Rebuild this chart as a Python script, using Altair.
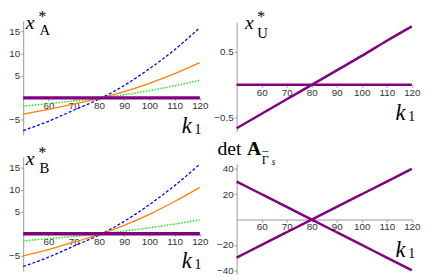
import altair as alt
import pandas as pd

# ---------------- data ----------------
K = [50, 60, 70, 80, 90, 100, 110, 120]

A_BLUE = [-7.4, -5.3, -2.8, -0.3, 2.8, 6.6, 10.9, 15.9]
A_ORANGE = [-3.7, -2.6, -1.4, -0.15, 1.4, 3.3, 5.5, 8.0]
A_GREEN = [-1.85, -1.3, -0.7, -0.1, 0.7, 1.65, 2.75, 4.0]
A_PURPLE = [0, 0, 0, 0, 0, 0, 0, 0]

U_LINE = [-0.66, -0.44, -0.22, 0.0, 0.22, 0.44, 0.67, 0.89]
U_ZERO = [0, 0, 0, 0, 0, 0, 0, 0]

B_BLUE = [-7.4, -5.3, -2.8, -0.3, 2.8, 6.6, 10.9, 15.8]
B_ORANGE = [-5.0, -3.6, -1.9, -0.2, 1.9, 4.4, 7.3, 10.5]
B_GREEN = [-1.6, -1.1, -0.6, -0.05, 0.6, 1.35, 2.2, 3.15]
B_PURPLE = [0, 0, 0, 0, 0, 0, 0, 0]

DET_DOWN = [30, 20, 10, 0, -10, -20, -30, -40]
DET_UP = [-30, -20, -10, 0, 10, 20, 30, 40]

X_TICKS = [60, 70, 80, 90, 100, 110, 120]
AB_YTICKS = [-5, 5, 10, 15]
U_YTICKS = [-0.5, 0.5]
DET_YTICKS = [-40, -20, 20, 40]

# ---------------- layout ----------------
W, H = 428, 272
SX, SY = 6, 1

BLUE = "#0000ff"
ORANGE = "#ff8000"
GREEN = "#22ee22"
PURPLE = "#800080"

SANS = "Liberation Sans"
SERIF = "Liberation Serif"


def px(x):
    return x - SX


def py(y):
    return y - SY


def panel(series, xr, yr, ydom, yticks, yfmt):
    y0 = yr[0] + (0 - ydom[0]) / (ydom[1] - ydom[0]) * (yr[1] - yr[0])
    xscale = alt.Scale(domain=[50, 120], range=[px(xr[0]), px(xr[1])], nice=False, zero=False)
    yscale = alt.Scale(domain=ydom, range=[py(yr[0]), py(yr[1])], nice=False, zero=False)
    xaxis = alt.Axis(orient="bottom", offset=py(y0) - H, values=X_TICKS, title=None,
                     labelFlush=False, labelOverlap=False, labelPadding=0, tickSize=2.5)
    yaxis = alt.Axis(orient="left", offset=-px(xr[0]), values=yticks, title=None, format=yfmt,
                     labelFlush=False, labelOverlap=False, labelPadding=1, tickSize=2.5)
    layers = []
    for vals, color, width, dash in series:
        df = pd.DataFrame({"k": K, "v": vals})
        kw = dict(color=color, strokeWidth=width, interpolate="monotone")
        if dash:
            kw["strokeDash"] = dash
        layers.append(
            alt.Chart(df).mark_line(**kw).encode(
                x=alt.X("k:Q", scale=xscale, axis=xaxis),
                y=alt.Y("v:Q", scale=yscale, axis=yaxis),
            )
        )
    return alt.layer(*layers)


def label(text, x, y, size, style="normal", weight="normal", font=SERIF):
    return alt.Chart(pd.DataFrame({"t": [text]})).mark_text(
        align="left", baseline="alphabetic", font=font, fontSize=size,
        fontStyle=style, fontWeight=weight, color="black",
    ).encode(x=alt.value(px(x)), y=alt.value(py(y)), text="t:N")


p1 = panel(
    [(A_BLUE, BLUE, 1.3, [3, 2]), (A_ORANGE, ORANGE, 1.3, None),
     (A_GREEN, GREEN, 1.5, [1.5, 1.5]), (A_PURPLE, PURPLE, 3.5, None)],
    [21.5, 201.5], [127.8, 11.7], [-8.4, 17.4], AB_YTICKS, "d")
p2 = panel(
    [(U_ZERO, PURPLE, 2.5, None), (U_LINE, PURPLE, 2.5, None)],
    [239, 417.5], [124.3, 13.05], [-0.71, 0.95], U_YTICKS, ".1f")
p3 = panel(
    [(B_BLUE, BLUE, 1.3, [3, 2]), (B_ORANGE, ORANGE, 1.3, None),
     (B_GREEN, GREEN, 1.5, [1.5, 1.5]), (B_PURPLE, PURPLE, 3.5, None)],
    [21.5, 201.5], [266.3, 150.2], [-8.4, 17.4], AB_YTICKS, "d")
p4 = panel(
    [(DET_DOWN, PURPLE, 2.5, None), (DET_UP, PURPLE, 2.5, None)],
    [239, 417.5], [269.5, 157.2], [-43, 44], DET_YTICKS, "d")

labels = [
    # x*_A
    label("x", 24, 19.5, 20, style="italic"),
    label("*", 37, 12.5, 16),
    label("A", 38, 25.5, 15),
    label("k", 183, 125.5, 23, style="italic"),
    label("1", 196, 126.5, 14),
    # x*_U
    label("x", 247.5, 20, 20, style="italic"),
    label("*", 260, 12.5, 16),
    label("U", 260, 28.5, 15),
    label("k", 401, 113, 23, style="italic"),
    label("1", 414, 114, 14),
    # x*_B
    label("x", 24, 158.5, 20, style="italic"),
    label("*", 37, 151.5, 16),
    label("B", 38, 166.5, 15),
    label("k", 183, 263, 23, style="italic"),
    label("1", 196, 264, 14),
    # det A_{Gamma-bar s}
    label("det", 219.5, 148, 20),
    label("A", 249.5, 148, 20, weight="bold"),
    label("Γ", 264.5, 157, 12.5),
    label("¯", 265, 154, 12.5),
    label("s", 274.5, 158.5, 10, style="italic"),
    label("k", 401, 252, 23, style="italic"),
    label("1", 414, 253, 14),
]

chart = (
    alt.layer(p1, p2, p3, p4, *labels)
    .resolve_scale(x="independent", y="independent")
    .resolve_axis(x="independent", y="independent")
    .properties(width=W, height=H, autosize=alt.AutoSizeParams(type="none"), padding=0)
    .configure_view(strokeWidth=0)
    .configure_axis(
        grid=False, domainColor="#999999", tickColor="#999999", domainWidth=1,
        labelFont=SANS, labelFontSize=10, labelColor="#333333",
    )
)

chart.save("out.html", embed_options={"renderer": "svg", "actions": False})
